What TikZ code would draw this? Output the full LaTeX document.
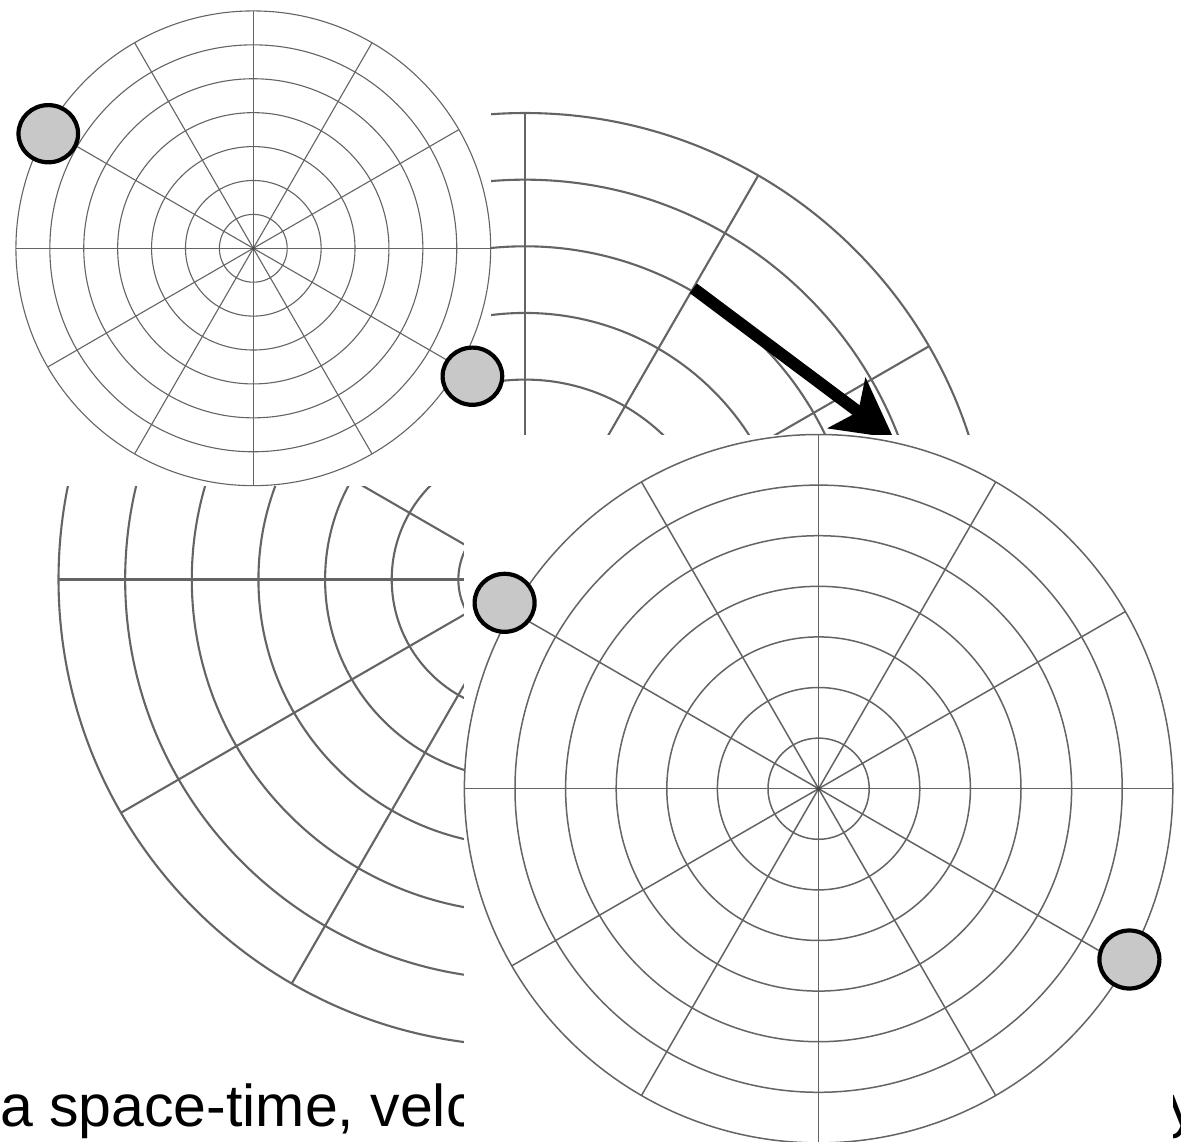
\documentclass[tikz,border=0pt]{standalone}
\usepackage{fontspec}
\newfontfamily\capfont{Liberation Sans}
\usetikzlibrary{arrows.meta}
\definecolor{gridgray}{RGB}{100,100,100}
\definecolor{ballgray}{RGB}{200,200,200}
\tikzset{
  gridline/.style={draw=gridgray},
  ball/.style={draw=black, line width=4.2pt, fill=ballgray},
  bigarrow/.style={line width=12pt, -{Stealth[length=58pt,width=62pt,inset=14pt]}},
  captext/.style={anchor=base west, inner sep=0pt, font=\capfont\fontsize{59}{70}\selectfont},
  cover/.style={fill=white},
}
% #1 centre x, #2 centre y, #3 ring spacing (pt), #4 line width
\newcommand{\mygrid}[4]{%
 \begin{scope}[shift={(#1,#2)}]
  \fill[cover] ({-7*#3pt},{-7*#3pt}) rectangle ({7*#3pt},{7*#3pt});
  \foreach \k in {1,...,7}{\draw[gridline,line width=#4] (0,0) circle[radius={\k*#3pt}];}
  \foreach \a in {0,30,...,150}{\draw[gridline,line width=#4] (\a:{7*#3pt}) -- (\a+180:{7*#3pt});}
 \end{scope}}
\begin{document}
\begin{tikzpicture}[x=1pt,y=-1pt]
\fill[white] (0,0) rectangle (1181,1142);
\useasboundingbox (0,0) rectangle (1181,1142);
% caption text (partly hidden)
\node[captext] (txtA) at (0,1126) {a space-time, velc};
\node[captext] (txtB) at (1168,1126) {y};
% zoomed grid (seen through two windows)
\begin{scope}[shift={(525,579.5)}]
  \foreach \k in {1,...,7}{\draw[gridline,line width=2.1pt] (0,0) circle[radius={\k*66.64pt}];}
  \foreach \a in {0,30,...,150}{\draw[gridline,line width=2.1pt] (\a:466.5pt) -- (\a+180:466.5pt);}
\end{scope}
\coordinate (atail) at (693.3,288.3);
\coordinate (ahead) at (893.5,438.1);
\draw[bigarrow] (atail) -- (ahead);
% small grid
\mygrid{253.3}{248.3}{33.91}{1.1pt}
\fill[gridgray!70!black] (253.3,248.3) circle[radius=1.6pt];
\draw[ball] (48.3,133.7) ellipse[x radius=29.8pt, y radius=28.6pt];
\draw[ball] (472.4,376.2) ellipse[x radius=29.8pt, y radius=28.6pt];
% big grid
\mygrid{818.6}{788.7}{50.6}{1.5pt}
\fill[gridgray!70!black] (818.6,788.7) circle[radius=2.2pt];
\draw[ball] (504.6,602.8) ellipse[x radius=30pt, y radius=29pt];
\draw[ball] (1129.4,959.5) ellipse[x radius=30pt, y radius=29pt];
\end{tikzpicture}
\end{document}
